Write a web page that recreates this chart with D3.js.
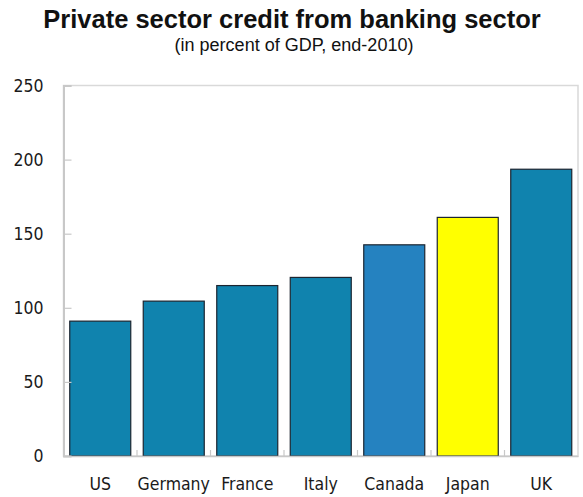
<!DOCTYPE html>
<html>
<head>
<meta charset="utf-8">
<script src="https://cdn.jsdelivr.net/npm/d3@7"></script>
<style>
  html, body { margin: 0; padding: 0; background: #ffffff; }
  svg { display: block; }
  .tick text, .cat-label { font-family: "DejaVu Sans Condensed", "DejaVu Sans", sans-serif; font-size: 17.5px; fill: #1a1a1a; }
</style>
</head>
<body>
<svg id="chart" width="583" height="497"></svg>
<script>
// Private sector credit, % of GDP, end-2010
const countries = ["US", "Germany", "France", "Italy", "Canada", "Japan", "UK"];
const creditPct = [91, 104.5, 115, 120.5, 142.5, 161, 193.5];
const barColors = ["#1083ae", "#1083ae", "#1083ae", "#1083ae", "#2582c0", "#ffff00", "#1083ae"];
const yTicks = [0, 50, 100, 150, 200, 250];

const svg = d3.select("#chart");
const plot = { left: 63.5, right: 578, top: 85.5, bottom: 456 };

// Titles
svg.append("text")
  .attr("x", 292).attr("y", 28)
  .attr("text-anchor", "middle")
  .style("font-family", "Arial, 'Liberation Sans', sans-serif")
  .style("font-weight", "bold")
  .style("font-size", "25.5px")
  .style("fill", "#111")
  .text("Private sector credit from banking sector");

svg.append("text")
  .attr("x", 294).attr("y", 51)
  .attr("text-anchor", "middle")
  .style("font-family", "Arial, 'Liberation Sans', sans-serif")
  .style("font-size", "18px")
  .style("fill", "#111")
  .text("(in percent of GDP, end-2010)");

// Scales
const x = d3.scaleBand()
  .domain(countries)
  .range([plot.left, plot.right])
  .paddingInner(0.17)
  .paddingOuter(0.085);

const y = d3.scaleLinear()
  .domain([0, 250])
  .range([plot.bottom, plot.top]);

// Plot frame
svg.append("rect")
  .attr("x", plot.left).attr("y", plot.top)
  .attr("width", plot.right - plot.left)
  .attr("height", plot.bottom - plot.top)
  .attr("fill", "none")
  .attr("stroke", "#d9d9d9")
  .attr("stroke-width", 1.5);

// Bars
svg.append("g").selectAll("rect")
  .data(countries)
  .join("rect")
  .attr("x", d => x(d))
  .attr("y", (d, i) => y(creditPct[i]))
  .attr("width", x.bandwidth())
  .attr("height", (d, i) => y(0) - y(creditPct[i]))
  .attr("fill", (d, i) => barColors[i])
  .attr("stroke", "#1c2530")
  .attr("stroke-width", 1.2);

// Y axis: ticks point into the plot
const yAxis = svg.append("g")
  .attr("transform", `translate(${plot.left},0)`)
  .call(d3.axisLeft(y).tickValues(yTicks).tickSize(-8).tickPadding(20));
yAxis.select(".domain").attr("stroke", "#c8c8c8").attr("stroke-width", 2);
yAxis.selectAll(".tick line").attr("stroke", "#c8c8c8").attr("stroke-width", 1.2);

// X axis: category labels, separators between bands
const xAxis = svg.append("g")
  .attr("transform", `translate(0,${plot.bottom})`)
  .call(d3.axisBottom(x).tickSize(0).tickPadding(22));
xAxis.select(".domain").attr("stroke", "#c8c8c8").attr("stroke-width", 1.5);

const seps = d3.range(1, countries.length).map(i => x(countries[i]) - x.step() * x.paddingInner() / 2);
svg.append("g").selectAll("line")
  .data(seps)
  .join("line")
  .attr("x1", d => d).attr("x2", d => d)
  .attr("y1", plot.bottom).attr("y2", plot.bottom - 6)
  .attr("stroke", "#c8c8c8")
  .attr("stroke-width", 1.2);
</script>
</body>
</html>
